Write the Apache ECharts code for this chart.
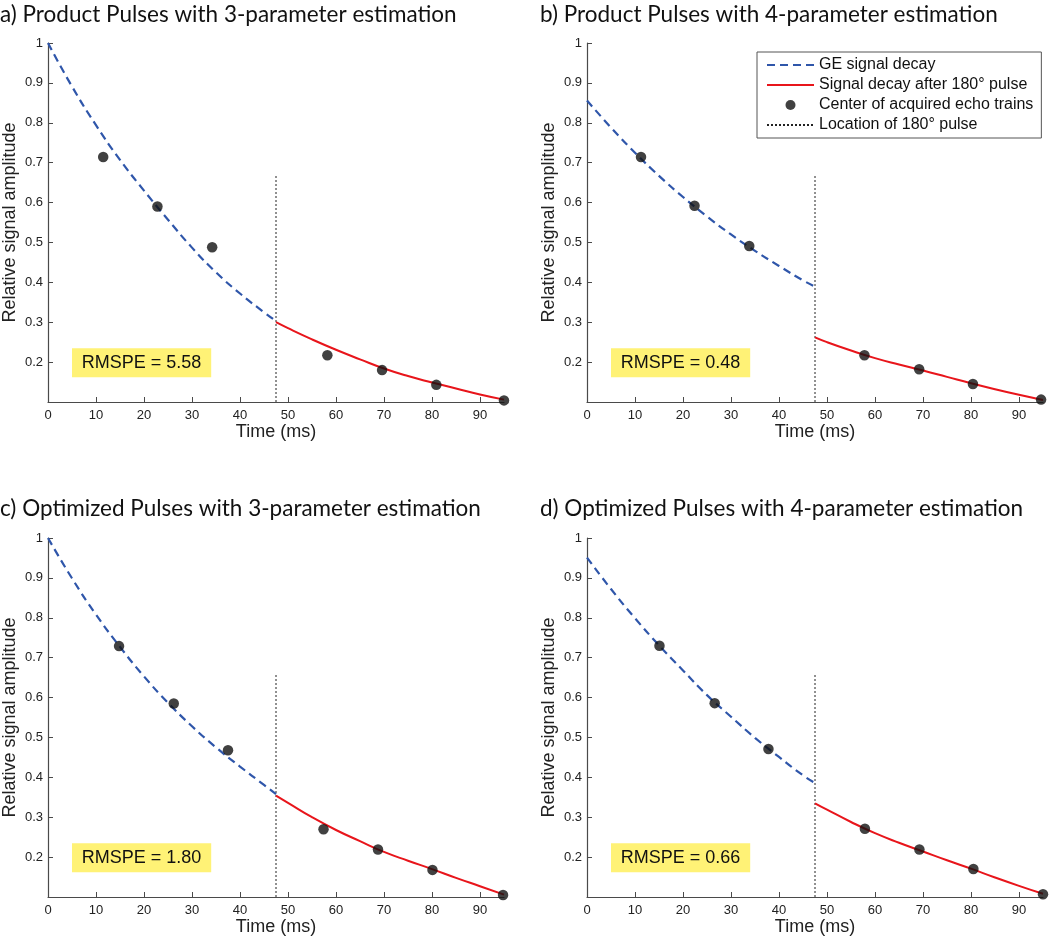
<!DOCTYPE html>
<html>
<head>
<meta charset="utf-8">
<script src="https://cdn.jsdelivr.net/npm/echarts@6/dist/echarts.min.js"></script>
<style>
html,body{margin:0;padding:0;background:#fff;}
#chart{width:1050px;height:942px;}
</style>
</head>
<body>
<div id="chart"></div>
<script>
// ---------------- data ----------------
const panelTitles = [
  'a) Product Pulses with 3-parameter estimation',
  'b) Product Pulses with 4-parameter estimation',
  'c) Optimized Pulses with 3-parameter estimation',
  'd) Optimized Pulses with 4-parameter estimation'
];
const legendNames = ['GE signal decay', 'Signal decay after 180\u00b0 pulse', 'Center of acquired echo trains', 'Location of 180\u00b0 pulse'];
const rmspeValues = ['5.58', '0.48', '1.80', '0.66'];
const xTickValues = [0, 10, 20, 30, 40, 50, 60, 70, 80, 90];
const yTickValues = [0.2, 0.3, 0.4, 0.5, 0.6, 0.7, 0.8, 0.9, 1];
const pulseTime = 47.5;
const pulseLineTop = [0.667, 0.667, 0.66, 0.66];

const blueTime = [0, 5, 10, 15, 20, 25, 30, 35, 40, 45, 47.5];
const redTime = [47.5, 50, 55, 60, 65, 70, 75, 80, 85, 90, 95];

const blueA = [1.000, 0.891, 0.794, 0.707, 0.630, 0.557, 0.487, 0.425, 0.372, 0.325, 0.303];
const redA  = [0.300, 0.285, 0.257, 0.231, 0.207, 0.184, 0.165, 0.149, 0.134, 0.119, 0.106];
const blueB = [0.856, 0.788, 0.725, 0.667, 0.614, 0.565, 0.520, 0.479, 0.441, 0.405, 0.389];
const redB  = [0.262, 0.250, 0.229, 0.210, 0.194, 0.179, 0.163, 0.147, 0.132, 0.118, 0.105];
const blueC = [1.000, 0.899, 0.808, 0.727, 0.653, 0.587, 0.528, 0.475, 0.427, 0.381, 0.358];
const redC  = [0.354, 0.336, 0.300, 0.268, 0.240, 0.213, 0.191, 0.170, 0.148, 0.127, 0.106];
const blueD = [0.951, 0.872, 0.799, 0.731, 0.668, 0.606, 0.552, 0.499, 0.451, 0.405, 0.386];
const redD  = [0.335, 0.319, 0.288, 0.260, 0.236, 0.214, 0.192, 0.171, 0.149, 0.128, 0.108];

const echoTimeA = [11.5, 22.8, 34.2, 58.2, 69.6, 80.9, 95];
const echoValA  = [0.714, 0.590, 0.488, 0.217, 0.180, 0.143, 0.104];
const echoTimeB = [11.25, 22.4, 33.8, 57.8, 69.2, 80.4, 94.6];
const echoValB  = [0.714, 0.592, 0.491, 0.217, 0.182, 0.145, 0.106];
const echoTimeC = [14.8, 26.2, 37.5, 57.4, 68.75, 80.1, 94.8];
const echoValC  = [0.729, 0.585, 0.468, 0.270, 0.219, 0.168, 0.105];
const echoTimeD = [15.1, 26.6, 37.8, 57.9, 69.25, 80.5, 95];
const echoValD  = [0.730, 0.586, 0.471, 0.271, 0.219, 0.170, 0.107];

const rmspeBoxX = [5, 34];
const rmspeBoxY = [0.162, 0.235];

// ---------------- build ----------------
const panels = [
  {blue: blueA, red: redA, et: echoTimeA, ev: echoValA},
  {blue: blueB, red: redB, et: echoTimeB, ev: echoValB},
  {blue: blueC, red: redC, et: echoTimeC, ev: echoValC},
  {blue: blueD, red: redD, et: echoTimeD, ev: echoValD}
];
const zip = (xs, ys) => xs.map((x, i) => [x, ys[i]]);

const gridPos = [
  {left: 48, top: 43},
  {left: 587, top: 43},
  {left: 48, top: 538},
  {left: 587, top: 538}
];
const titlePos = [
  {left: 0, top: 3},
  {left: 540, top: 3},
  {left: 0, top: 497},
  {left: 540, top: 497}
];

const sansText = 'Liberation Sans, Arial, Helvetica, sans-serif';
const axisColor = '#4a4a4a';
const blueColor = '#2f56aa';
const redColor = '#e8151b';

const grids = [], xAxes = [], yAxes = [], series = [], titles = [];
panels.forEach((p, i) => {
  grids.push({left: gridPos[i].left, top: gridPos[i].top, width: 456, height: 359, containLabel: false});
  titles.push({
    text: panelTitles[i], left: titlePos[i].left, top: titlePos[i].top, padding: 0,
    textStyle: {fontFamily: 'Lato, Noto Sans, sans-serif', fontSize: 22.5, fontWeight: 'normal', color: '#111'}
  });
  xAxes.push({
    type: 'value', gridIndex: i, min: 0, max: 95,
    name: 'Time (ms)', nameLocation: 'middle', nameGap: 21,
    nameTextStyle: {fontFamily: sansText, fontSize: 18, color: '#222'},
    axisLine: {show: true, lineStyle: {color: axisColor, width: 1.2}},
    axisTick: {show: true, inside: true, length: 5, customValues: xTickValues, lineStyle: {color: axisColor}},
    axisLabel: {customValues: xTickValues, margin: 7, fontFamily: sansText, fontSize: 13, color: '#222'},
    splitLine: {show: false}
  });
  yAxes.push({
    type: 'value', gridIndex: i, min: 0.1, max: 1,
    name: 'Relative signal amplitude', nameLocation: 'middle', nameGap: 29,
    nameTextStyle: {fontFamily: sansText, fontSize: 18, color: '#222'},
    axisLine: {show: true, lineStyle: {color: axisColor, width: 1.2}},
    axisTick: {show: true, inside: true, length: 5, customValues: yTickValues, lineStyle: {color: axisColor}},
    axisLabel: {customValues: yTickValues, margin: 5, fontFamily: sansText, fontSize: 13, color: '#222',
      formatter: v => String(Math.round(v * 10) / 10)},
    splitLine: {show: false}
  });
  series.push({
    name: legendNames[0], type: 'line', xAxisIndex: i, yAxisIndex: i,
    data: zip(blueTime, p.blue), smooth: true, symbol: 'none', clip: false,
    lineStyle: {color: blueColor, width: 2.2, type: [8, 5]}, itemStyle: {color: blueColor}, z: 3
  });
  series.push({
    name: legendNames[1], type: 'line', xAxisIndex: i, yAxisIndex: i,
    data: zip(redTime, p.red), smooth: true, symbol: 'none', clip: false,
    lineStyle: {color: redColor, width: 2}, itemStyle: {color: redColor}, z: 3
  });
  series.push({
    name: legendNames[2], type: 'scatter', xAxisIndex: i, yAxisIndex: i,
    data: zip(p.et, p.ev), symbol: 'circle', symbolSize: 10.5, clip: false,
    itemStyle: {color: '#111'}, z: 5,
    markArea: {
      silent: true,
      itemStyle: {color: '#fff276', opacity: 1},
      label: {show: true, position: 'inside', fontFamily: sansText, fontSize: 18, color: '#111'},
      data: [[{name: 'RMSPE = ' + rmspeValues[i], coord: [rmspeBoxX[0], rmspeBoxY[0]]}, {coord: [rmspeBoxX[1], rmspeBoxY[1]]}]]
    }
  });
  series.push({
    name: legendNames[3], type: 'line', xAxisIndex: i, yAxisIndex: i,
    data: [[pulseTime, 0.1], [pulseTime, pulseLineTop[i]]], symbol: 'none', clip: false,
    lineStyle: {color: '#222', width: 1, type: [2, 2]}, itemStyle: {color: '#222'}, z: 2
  });
});

const hiddenSymbol = {opacity: 0};
const chart = echarts.init(document.getElementById('chart'), null, {renderer: 'canvas'});
chart.setOption({
  backgroundColor: '#fff',
  animation: false,
  title: titles,
  grid: grids,
  xAxis: xAxes,
  yAxis: yAxes,
  legend: {
    data: [
      {name: legendNames[0], itemStyle: hiddenSymbol},
      {name: legendNames[1], itemStyle: hiddenSymbol},
      {name: legendNames[2]},
      {name: legendNames[3], itemStyle: hiddenSymbol}
    ],
    orient: 'vertical',
    left: 757, top: 52,
    padding: [5, 8, 5, 9],
    itemWidth: 47, itemHeight: 10, itemGap: 4,
    borderColor: '#555', borderWidth: 1, backgroundColor: '#fff',
    textStyle: {fontFamily: sansText, fontSize: 16, color: '#111', lineHeight: 16},
    selectedMode: false
  },
  series: series
});
</script>
</body>
</html>
